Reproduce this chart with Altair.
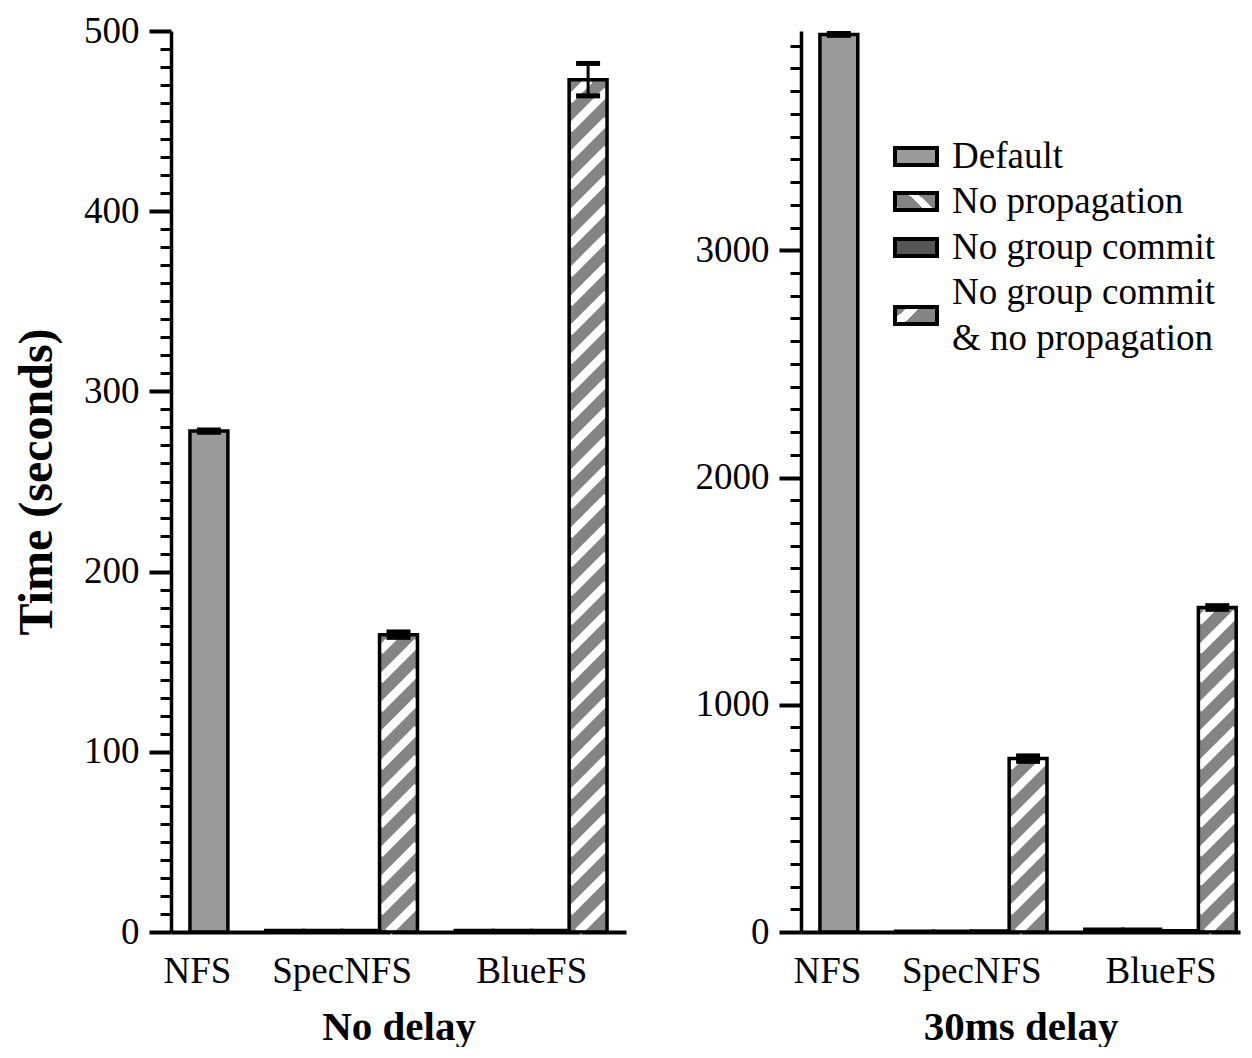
import altair as alt
import pandas as pd

FONT = "Liberation Serif"

systems = ["NFS", "SpecNFS", "BlueFS"]
configs = ["Default", "No propagation", "No group commit", "No group commit & no propagation"]
legend_labels = ["Default", "No propagation", "No group commit", "No group commit\n& no propagation"]
nfs_configs = ["Default"]
fills = ["#9a9a9a", "#848484", "#555555", "#848484"]
hatch_dir = {"No propagation": "\\", "No group commit & no propagation": "/"}

# Panel 1: No delay (seconds)
nodelay_nfs = [278]
nodelay_specnfs = [0.8, 0.8, 0.8, 165]
nodelay_bluefs = [0.8, 0.8, 0.8, 473]
nodelay_nfs_err = [0.6]
nodelay_specnfs_err = [0, 0, 0, 1.5]
nodelay_bluefs_err = [0, 0, 0, 9]

# Panel 2: 30ms delay (seconds)
delay_nfs = [3950]
delay_specnfs = [3, 3, 4, 763]
delay_bluefs = [12, 12, 6, 1428]
delay_nfs_err = [4]
delay_specnfs_err = [0, 0, 0, 12]
delay_bluefs_err = [0, 0, 0, 8]


def build(values, errs):
    rows = []
    centers = []
    pos = 0.5
    for sys_name, cfgs, vals, es in zip(systems, [nfs_configs, configs, configs], values, errs):
        start = pos
        for cfg, v, e in zip(cfgs, vals, es):
            rows.append(dict(system=sys_name, config=cfg, value=v, err=e, zero=0,
                             x0=pos, x1=pos + 1, xc=pos + 0.5, lo=v - e, hi=v + e))
            pos += 1
        centers.append((start + pos) / 2)
        pos += 1
    return pd.DataFrame(rows), centers


def stripes(df, sx, sy, period=29.0):
    out = []
    for _, r in df.iterrows():
        d = hatch_dir.get(r["config"])
        if d is None:
            continue
        X0, X1 = r["x0"] * sx, r["x1"] * sx
        w = X1 - X0
        hh = r["value"] * sy
        if hh < 8:
            continue
        c = -w
        while c < hh:
            t_lo = max(0.0, -c)
            t_hi = min(w, hh - c)
            if t_hi > t_lo + 0.5:
                if d == "/":
                    xa, ya, xb, yb = X0 + t_lo, t_lo + c, X0 + t_hi, t_hi + c
                else:
                    xa, ya, xb, yb = X1 - t_lo, t_lo + c, X1 - t_hi, t_hi + c
                out.append(dict(sx0=xa / sx, sy0=ya / sy, sx1=xb / sx, sy1=yb / sy))
            c += period
    return pd.DataFrame(out)


def grad(kind):
    g, wt = "#848484", "white"
    if kind == "/":
        return {"gradient": "linear", "x1": 0, "y1": 0, "x2": 1, "y2": 0.43,
                "stops": [{"offset": 0, "color": g}, {"offset": 0.25, "color": g},
                          {"offset": 0.25, "color": wt}, {"offset": 0.52, "color": wt},
                          {"offset": 0.52, "color": g}, {"offset": 1, "color": g}]}
    return {"gradient": "linear", "x1": 0, "y1": 1, "x2": 1, "y2": 0.57,
            "stops": [{"offset": 0, "color": wt}, {"offset": 0.12, "color": wt},
                      {"offset": 0.12, "color": g}, {"offset": 0.6, "color": g},
                      {"offset": 0.6, "color": wt}, {"offset": 0.8, "color": wt},
                      {"offset": 0.8, "color": g}, {"offset": 1, "color": g}]}


def panel(df, centers, xmax, ymax, W, H, major, minor, ytitle, xtitle, legend):
    sx = W / xmax
    sy = H / ymax
    xs = alt.Scale(domain=[0, xmax], nice=False, zero=False)
    ys = alt.Scale(domain=[0, ymax], nice=False)
    label_expr = " : ".join(
        f"abs(datum.value - {c}) < 0.01 ? '{s}'" for c, s in zip(centers, systems)) + " : ''"
    xaxis = alt.Axis(values=centers, tickCount=50, labelExpr=label_expr, ticks=False, tickSize=0,
                     grid=False, domainColor="black", domainWidth=4, labelFont=FONT, labelFontSize=37,
                     labelColor="black", labelPadding=21, labelFlush=False, labelOverlap=False,
                     labelOffset={"condition": {"test": f"datum.value < {centers[0] + 0.01}", "value": -12},
                                  "value": 0},
                     title=xtitle, titleFont=FONT, titleFontSize=41, titleFontWeight="bold",
                     titleColor="black", titlePadding=18)
    top_tick = int(ymax // minor) * minor
    yvals = list(range(0, top_tick + 1, minor))
    ykw = dict(values=yvals, tickCount=500, format="d",
               labelExpr=f"datum.value % {major} === 0 ? datum.label : ''",
               tickSize={"condition": {"test": f"datum.value % {major} === 0", "value": 22}, "value": 11},
               tickWidth={"condition": {"test": f"datum.value % {major} === 0", "value": 4}, "value": 3},
               tickColor="black", domainColor="black", domainWidth=3.5, grid=False,
               labelFont=FONT, labelFontSize=37, labelColor="black", labelPadding=10,
               labelFlush=False, labelOverlap=False)
    if ytitle:
        yaxis = alt.Axis(title=ytitle, titleFont=FONT, titleFontSize=48, titleFontWeight="bold",
                         titleColor="black", titlePadding=22, **ykw)
    else:
        yaxis = alt.Axis(title=None, **ykw)

    bars = alt.Chart(df).mark_rect().encode(
        x=alt.X("x0:Q", scale=xs, axis=xaxis),
        x2="x1",
        y=alt.Y("value:Q", scale=ys, axis=yaxis),
        y2="zero",
        fill=alt.Fill("config:N", scale=alt.Scale(domain=configs, range=fills), legend=None),
    )
    sdf = stripes(df, sx, sy)
    hatch = alt.Chart(sdf).mark_rule(color="white", strokeWidth=8.5, strokeCap="butt").encode(
        x="sx0:Q", y="sy0:Q", x2="sx1", y2="sy1")
    outline = alt.Chart(df).mark_rect(fillOpacity=0, stroke="black", strokeWidth=3.5).encode(
        x="x0:Q", x2="x1", y="value:Q", y2="zero")
    edf = df[df["err"] > 0]
    err_rule = alt.Chart(edf).mark_rule(color="black", strokeWidth=3).encode(
        x="xc:Q", y="lo:Q", y2="hi")
    caps = alt.Chart(edf).transform_fold(["lo", "hi"], as_=["end", "cap"]).mark_tick(
        orient="horizontal", size=24, thickness=5, color="black", opacity=1).encode(
        x="xc:Q", y="cap:Q")
    layers = [bars, hatch, outline, err_rule, caps]

    if legend:
        swatch_y = [125.5, 170.5, 216.5, 284.5]
        text_y = [125.5, 170.5, 216.5, 261.5]
        for cfg, lab, fc, yc, ty in zip(configs, legend_labels, fills, swatch_y, text_y):
            kind = hatch_dir.get(cfg)
            fill_value = grad(kind) if kind else fc
            ldf = pd.DataFrame({"label": [lab]})
            sw = alt.Chart(ldf).mark_rect(fill=fill_value, stroke="black", strokeWidth=4).encode(
                x=alt.value(94), x2=alt.value(136), y=alt.value(yc - 8.5), y2=alt.value(yc + 8.5))
            tx = alt.Chart(ldf).mark_text(align="left", baseline="middle", font=FONT, fontSize=37,
                                          color="black", lineBreak="\n", lineHeight=46).encode(
                x=alt.value(151), y=alt.value(ty), text="label:N")
            layers += [sw, tx]

    return alt.layer(*layers).properties(width=W, height=H)


df1, c1 = build([nodelay_nfs, nodelay_specnfs, nodelay_bluefs],
                 [nodelay_nfs_err, nodelay_specnfs_err, nodelay_bluefs_err])
df2, c2 = build([delay_nfs, delay_specnfs, delay_bluefs],
                [delay_nfs_err, delay_specnfs_err, delay_bluefs_err])

left = panel(df1, c1, 12, 500, 455, 901, 100, 10, "Time (seconds)", "No delay", False)
right = panel(df2, c2, 11.6, 3965, 439, 901, 1000, 100, None, "30ms delay", True)

chart = alt.hconcat(left, right, spacing=69).properties(
    padding={"left": 5, "right": 0, "top": 4, "bottom": 0}
).configure(background="white").configure_view(strokeWidth=0, stroke="transparent")

chart.save("out.html", embed_options={"renderer": "svg", "actions": False})
